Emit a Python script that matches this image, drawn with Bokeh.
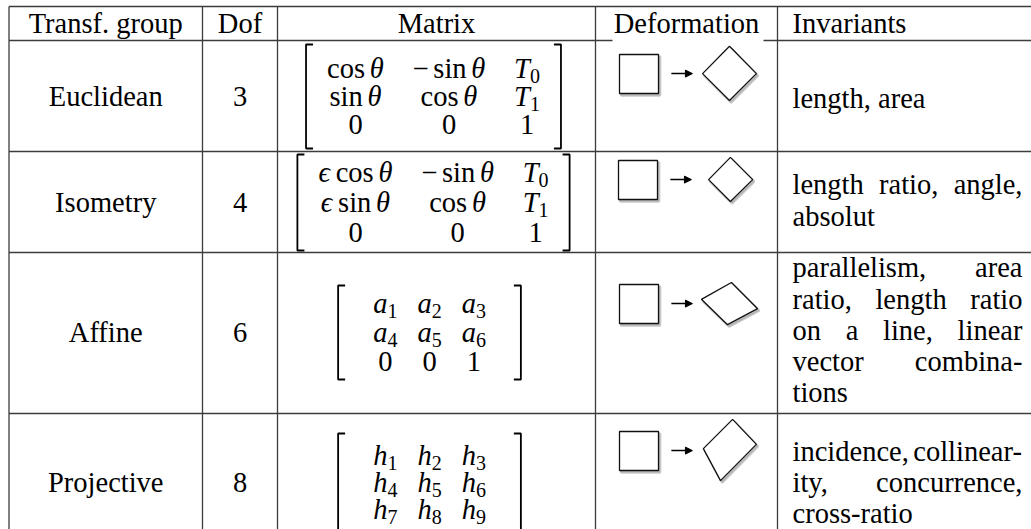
from bokeh.plotting import figure
from bokeh.models import Range1d, ColumnDataSource, Arrow, NormalHead
from bokeh.core.properties import value
from bokeh.embed import file_html
from bokeh.resources import INLINE

# ---------------- table content ----------------
HEADERS = ["Transf. group", "Dof", "Matrix", "Deformation", "Invariants"]
GROUPS = ["Euclidean", "Isometry", "Affine", "Projective"]
DOF = ["3", "4", "6", "8"]
MATRICES = [
    [["cos θ", "− sin θ", "T_0"], ["sin θ", "cos θ", "T_1"], ["0", "0", "1"]],
    [["ϵ cos θ", "− sin θ", "T_0"], ["ϵ sin θ", "cos θ", "T_1"], ["0", "0", "1"]],
    [["a_1", "a_2", "a_3"], ["a_4", "a_5", "a_6"], ["0", "0", "1"]],
    [["h_1", "h_2", "h_3"], ["h_4", "h_5", "h_6"], ["h_7", "h_8", "h_9"]],
]
INVARIANTS = [
    ["length, area"],
    ["length ratio, angle,", "absolut"],
    ["parallelism, area", "ratio, length ratio", "on a line, linear",
     "vector combina-", "tions"],
    ["incidence, collinear-", "ity, concurrence,", "cross-ratio"],
]
# deformed square corners (left, top, right, bottom), in units of the square side
DEFORMED = [
    [(2.13, 0.49), (2.82, -0.21), (3.51, 0.49), (2.82, 1.18)],
    [(2.31, 0.49), (2.87, -0.08), (3.44, 0.49), (2.87, 1.05)],
    [(2.10, 0.38), (2.87, -0.05), (3.54, 0.62), (2.77, 1.03)],
    [(2.15, 0.44), (2.90, -0.31), (3.51, 0.33), (2.59, 1.26)],
]

# ---------------- layout (pixels of the page) ----------------
WIDTH, HEIGHT = 1031, 529
COL_X = [8.5, 202, 277, 595, 777]
ROW_Y = [6, 40, 151, 252, 413]
ROW_CENTER = [96, 202, 332, 482]
HEAD_BASE = 32
MAT_CX = [433, 433, 429, 429]
MAT_PAD = [21, 21, 35, 35]
MAT_GAP = [28.5, 28.5, 20, 20]
MAT_ROW_SP = [28, 30, 29, 27]
MAT_HALF = [52, 48, 47, 49]
INV_L, INV_R = 792, 1022
INV_CENTER = [100, 202, 332, 484]
INV_SP = 31.3
SQ_SIDE = 39
SQ_POS = [(619, 54), (618, 160), (619, 284), (619, 431)]

F = 28.5
SUB = 20
FONT = value("Liberation Serif")
LINE_C = "#3c3c3c"

# Times-compatible widths (1/1000 em)
W = {}
for ch, w in zip("abcdefghijklmnopqrstuvwxyz",
                 [444, 500, 444, 500, 444, 333, 500, 500, 278, 278, 500, 278, 778,
                  500, 500, 500, 500, 333, 389, 278, 500, 500, 722, 500, 500, 444]):
    W[ch] = w
for ch, w in zip("ABCDEFGHIJKLMNOPQRSTUVWXYZ",
                 [722, 667, 667, 722, 611, 556, 722, 722, 333, 389, 722, 611, 889,
                  722, 722, 556, 722, 667, 556, 611, 722, 722, 944, 722, 722, 611]):
    W[ch] = w
for ch in "0123456789":
    W[ch] = 500
W.update({" ": 250, ",": 250, ".": 250, "-": 333, "θ": 500, "ϵ": 440, "−": 564})
WI = dict(W)
WI.update({"a": 500, "T": 556, "h": 500})


def tw(s, size, italic=False):
    tab = WI if italic else W
    return sum(tab.get(c, 500) for c in s) * size / 1000.0


def by_(base, size):
    # place so that the rendered alphabetic baseline lands on `base`
    return base - 0.32 * size


p = figure(width=WIDTH, height=HEIGHT, x_range=Range1d(0, WIDTH),
           y_range=Range1d(HEIGHT, 0),
           output_backend="svg", toolbar_location=None, min_border=0)
p.axis.visible = False
p.grid.visible = False
p.outline_line_color = None
p.background_fill_color = "white"
p.border_fill_color = "white"

# ---------------- grid lines ----------------
x0s, y0s, x1s, y1s = [], [], [], []
for y in ROW_Y:
    if y == 40:
        x0s += [COL_X[0], 763]; x1s += [612, WIDTH]; y0s += [y, y]; y1s += [y, y]
    else:
        x0s.append(COL_X[0]); x1s.append(WIDTH); y0s.append(y); y1s.append(y)
for x in COL_X:
    x0s.append(x); x1s.append(x); y0s.append(ROW_Y[0]); y1s.append(HEIGHT)
p.segment(x0=x0s, y0=y0s, x1=x1s, y1=y1s, line_color=LINE_C, line_width=1.3)

# ---------------- text runs ----------------
center_runs = {"x": [], "y": [], "t": []}
left_up = {"x": [], "y": [], "t": []}
left_it = {"x": [], "y": [], "t": []}
left_sub = {"x": [], "y": [], "t": []}


def add(d, x, y, t, size=F):
    d["x"].append(x); d["y"].append(by_(y, size)); d["t"].append(t)


# headers
for i, h in enumerate(HEADERS[:4]):
    add(center_runs, (COL_X[i] + COL_X[i + 1]) / 2, HEAD_BASE, h)
add(left_up, INV_L, HEAD_BASE, HEADERS[4])

# group names and dof
for r in range(4):
    add(center_runs, (COL_X[0] + COL_X[1]) / 2, ROW_CENTER[r] + 9, GROUPS[r])
    add(center_runs, (COL_X[1] + COL_X[2]) / 2, ROW_CENTER[r] + 9, DOF[r])


# matrices
def cell_runs(cell):
    runs = []
    for i, t in enumerate(cell.split(" ")):
        if i > 0:
            runs.append(None)
        if "_" in t:
            b, s = t.split("_")
            runs.append((b, True, F, 0))
            runs.append((s, False, SUB, 5))
        elif t in ("cos", "sin", "−") or t.isdigit():
            runs.append((t, False, F, 0))
        else:
            runs.append((t, True, F, 0))
    return runs


def runs_width(runs):
    return sum(F / 6.0 if r is None else tw(r[0], r[2], r[1]) for r in runs)


bx, byy = [], []
for m, mat in enumerate(MATRICES):
    cells = [[cell_runs(c) for c in row] for row in mat]
    ncol = len(mat[0])
    cw = [max(runs_width(cells[r][c]) for r in range(len(mat))) for c in range(ncol)]
    gap = MAT_GAP[m]
    total = sum(cw) + gap * (ncol - 1)
    start = MAT_CX[m] - total / 2
    centers = []
    xx = start
    for c in range(ncol):
        centers.append(xx + cw[c] / 2)
        xx += cw[c] + gap
    cy = ROW_CENTER[m]
    for r, row in enumerate(cells):
        base = cy + (r - 1) * MAT_ROW_SP[m] + 9
        for c, runs in enumerate(row):
            x = centers[c] - runs_width(runs) / 2
            for run in runs:
                if run is None:
                    x += F / 6.0
                    continue
                t, it, size, dy = run
                if size == SUB:
                    add(left_sub, x, base + dy, t, SUB)
                elif it:
                    add(left_it, x, base, t)
                else:
                    add(left_up, x, base, t)
                x += tw(t, size, it)
    L = start - MAT_PAD[m]
    R = start + total + MAT_PAD[m]
    top = cy - MAT_HALF[m]
    bot = cy + MAT_HALF[m]
    bx += [[L + 7, L, L, L + 7], [R - 7, R, R, R - 7]]
    byy += [[top, top, bot, bot], [top, top, bot, bot]]

p.multi_line(xs=bx, ys=byy, line_color="black", line_width=1.8)

# invariants (justified paragraphs)
for r, lines in enumerate(INVARIANTS):
    n = len(lines)
    for i, line in enumerate(lines):
        base = INV_CENTER[r] + 7 + (i - (n - 1) / 2.0) * INV_SP
        words = line.split(" ")
        if i == n - 1 or len(words) == 1:
            add(left_up, INV_L, base, line)
            continue
        widths = [tw(w, F) for w in words]
        g = (INV_R - INV_L - sum(widths)) / (len(words) - 1)
        x = INV_L
        for w, wd in zip(words, widths):
            add(left_up, x, base, w)
            x += wd + g

p.text(x="x", y="y", text="t", source=ColumnDataSource(center_runs), text_font=FONT,
       text_font_size=f"{F}px", text_align="center", text_baseline="alphabetic",
       text_color="black")
p.text(x="x", y="y", text="t", source=ColumnDataSource(left_up), text_font=FONT,
       text_font_size=f"{F}px", text_align="left", text_baseline="alphabetic",
       text_color="black")
p.text(x="x", y="y", text="t", source=ColumnDataSource(left_it), text_font=FONT,
       text_font_size=f"{F}px", text_font_style="italic", text_align="left",
       text_baseline="alphabetic", text_color="black")
p.text(x="x", y="y", text="t", source=ColumnDataSource(left_sub), text_font=FONT,
       text_font_size=f"{SUB}px", text_align="left", text_baseline="alphabetic",
       text_color="black")

# ---------------- deformation icons ----------------
sh_xs, sh_ys, xs, ys = [], [], [], []
ax0, ay0, ax1, ay1 = [], [], [], []
for r in range(4):
    sx, sy = SQ_POS[r]
    s = SQ_SIDE
    sq = [(0, 0), (1, 0), (1, 1), (0, 1)]
    for shape in (sq, DEFORMED[r]):
        px = [sx + u * s for u, v in shape]
        py = [sy + v * s for u, v in shape]
        xs.append(px); ys.append(py)
        sh_xs.append([x + 1.6 for x in px]); sh_ys.append([y + 2.0 for y in py])
    ax0.append(sx + 1.33 * s); ax1.append(sx + 1.87 * s)
    ay0.append(sy + 0.49 * s); ay1.append(sy + 0.49 * s)

p.patches(xs=sh_xs, ys=sh_ys, fill_color="#9a9a9a", fill_alpha=0.45,
          line_color="#8a8a8a", line_alpha=0.45, line_width=2.5)
p.patches(xs=xs, ys=ys, fill_color="white", line_color="#111111", line_width=1.3)
arrows = ColumnDataSource(dict(x0=ax0, y0=ay0, x1=ax1, y1=ay1))
p.add_layout(Arrow(end=NormalHead(size=7, fill_color="black", line_color="black"),
                   x_start="x0", y_start="y0", x_end="x1", y_end="y1", source=arrows,
                   line_color="black", line_width=1.5))

open("out.html", "w").write(file_html(p, INLINE))
